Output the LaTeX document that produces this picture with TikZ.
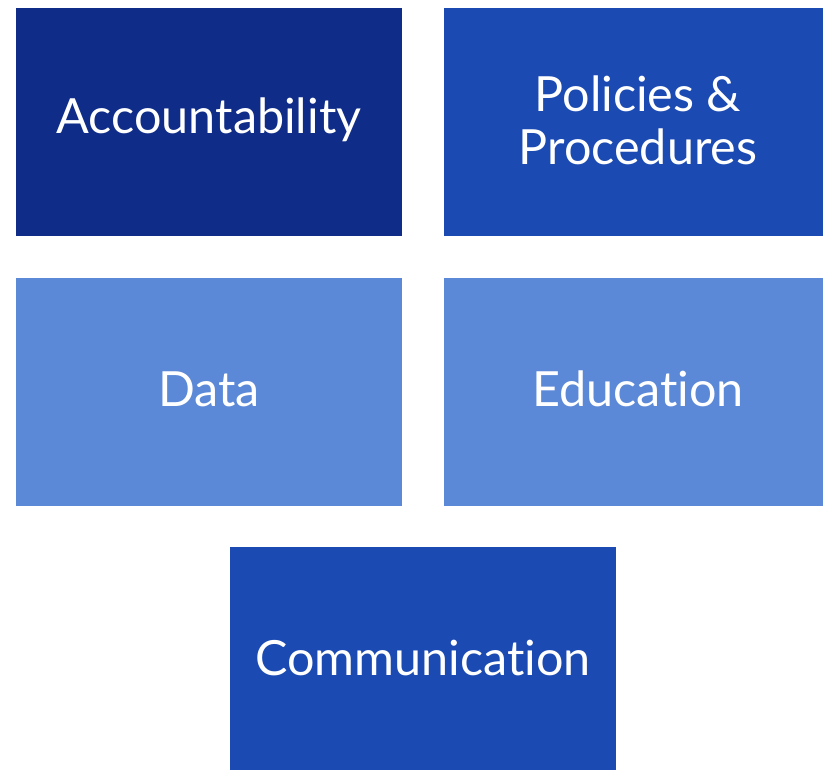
\documentclass[tikz,border=0pt]{standalone}
\usepackage{fontspec}
\setmainfont{Lato}[RawFeature={-liga;-dlig;-calt}]
\definecolor{navy}{HTML}{0E2C88}
\definecolor{midblue}{HTML}{1B4AB3}
\definecolor{lightblue}{HTML}{5B89D8}
\tikzset{
  card/.style={draw=none, minimum width=386pt, minimum height=228pt, inner sep=0pt, outer sep=0pt, anchor=north west},
  lbl/.style={text=white, font=\fontsize{48.5}{53}\selectfont, align=center}
}
\begin{document}
\begin{tikzpicture}[x=1pt,y=-1pt]
\useasboundingbox[fill=white] (0,0) rectangle (823,770);
\begin{scope}
\clip (0,0) rectangle (823,770);
\node[card, fill=navy] (acc) at (16,8) {};
\node[card, fill=midblue] (pol) at (444,8) {};
\node[card, fill=lightblue] (dat) at (16,278) {};
\node[card, fill=lightblue] (edu) at (444,278) {};
\node[card, fill=midblue, minimum height=230pt] (com) at (230,547) {};
\end{scope}
\node[lbl] (tacc) at (209,120) {Accountability};
\node[lbl] (tpol) at (638,120) {Policies \&\\Procedures};
\node[lbl] (tdat) at (209,389) {Data};
\node[lbl] (tedu) at (638,389) {Education};
\node[lbl] (tcom) at (423,658) {Communication};
\end{tikzpicture}
\end{document}
